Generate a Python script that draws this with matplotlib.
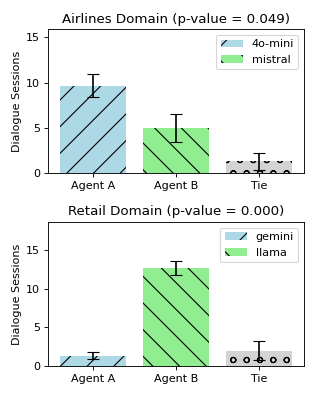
import matplotlib
matplotlib.use("Agg")
import matplotlib.pyplot as plt

categories = ["Agent A", "Agent B", "Tie"]

airlines_title = "Airlines Domain (p-value = 0.049)"
airlines_labels = ["4o-mini", "mistral"]
airlines_means = [9.67, 5.0, 1.33]
airlines_errs = [1.25, 1.55, 0.94]

retail_title = "Retail Domain (p-value = 0.000)"
retail_labels = ["gemini", "llama"]
retail_means = [1.33, 12.67, 2.0]
retail_errs = [0.47, 0.92, 1.17]

colors = ["lightblue", "lightgreen", "lightgray"]
hatches = ["/", "\\", "o"]

fig = plt.figure(figsize=(317 / 80, 397 / 80), dpi=80)
ax1 = fig.add_axes([48 / 317, (397 - 173.3) / 397, 256 / 317, 144 / 397])
ax2 = fig.add_axes([48 / 317, (397 - 366) / 397, 256 / 317, 144 / 397])


def draw(ax, title, labels, means, errs, ytop):
    x = list(range(len(categories)))
    bars = ax.bar(x, means, width=0.8, color=colors)
    for b, h in zip(bars, hatches):
        b.set_hatch(h)
    ax.errorbar(x, means, yerr=errs, fmt="none", ecolor="black", capsize=5, lw=1.5)
    ax.set_xticks(x)
    ax.set_xticklabels(categories)
    ax.set_ylabel("Dialogue Sessions")
    ax.set_title(title)
    ax.set_ylim(0, ytop)
    ax.legend([bars[0], bars[1]], labels, loc="upper right")


draw(ax1, airlines_title, airlines_labels, airlines_means, airlines_errs, 15.9)
draw(ax2, retail_title, retail_labels, retail_means, retail_errs, 18.6)

fig.savefig("out.png", dpi=80)
